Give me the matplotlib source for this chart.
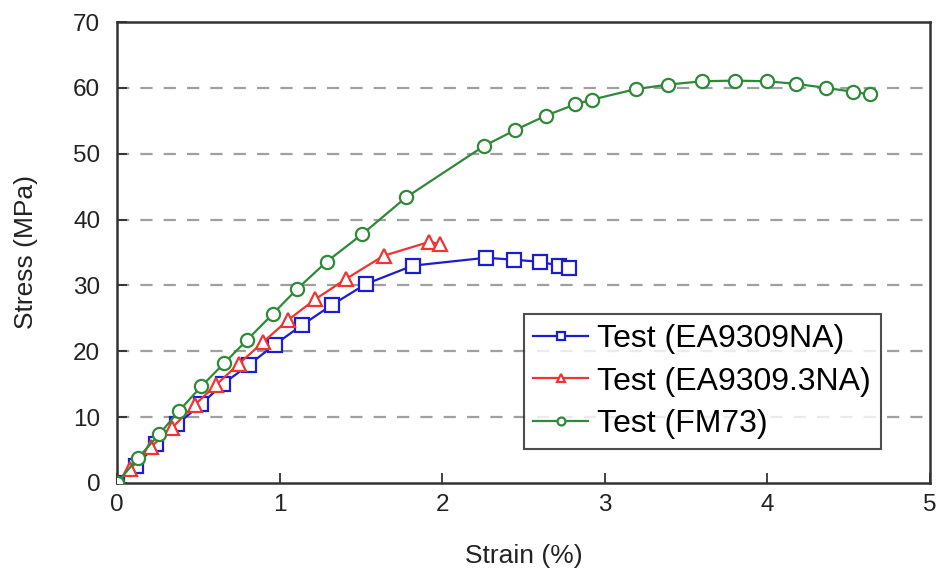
import matplotlib
matplotlib.use("Agg")
import matplotlib.pyplot as plt

plt.rcParams['font.family'] = ['Liberation Sans', 'DejaVu Sans']

# Stress-strain test data
strain_ea9309na = [0, 0.12, 0.24, 0.37, 0.52, 0.65, 0.81, 0.97, 1.14, 1.32, 1.53, 1.82,
                   2.27, 2.44, 2.60, 2.72, 2.78]
stress_ea9309na = [0, 2.6, 5.9, 8.9, 12.0, 15.0, 17.9, 21.0, 24.0, 27.0, 30.2, 33.0,
                   34.2, 33.9, 33.6, 33.0, 32.6]

strain_ea93093na = [0, 0.08, 0.21, 0.34, 0.48, 0.61, 0.75, 0.90, 1.05, 1.22, 1.41, 1.64,
                    1.92, 1.99]
stress_ea93093na = [0, 2.1, 5.5, 8.4, 11.9, 14.9, 18.1, 21.4, 24.7, 27.9, 31.0, 34.5,
                    36.6, 36.3]

strain_fm73 = [0, 0.13, 0.26, 0.38, 0.52, 0.66, 0.80, 0.96, 1.11, 1.29, 1.51, 1.78,
               2.26, 2.45, 2.64, 2.82, 2.92, 3.19, 3.39, 3.60, 3.80, 4.00, 4.18, 4.36,
               4.53, 4.63]
stress_fm73 = [0, 3.8, 7.4, 10.9, 14.7, 18.2, 21.7, 25.7, 29.5, 33.6, 37.8, 43.4,
               51.2, 53.6, 55.8, 57.5, 58.2, 59.8, 60.5, 61.0, 61.1, 61.0, 60.6, 60.0,
               59.4, 59.0]

series = [
    (strain_ea9309na, stress_ea9309na, "Test (EA9309NA)", "#1c1cd0", "s", 10),
    (strain_ea93093na, stress_ea93093na, "Test (EA9309.3NA)", "#f03434", "^", 10),
    (strain_fm73, stress_fm73, "Test (FM73)", "#2f8a38", "o", 9.5),
]

x_ticks = [0, 1, 2, 3, 4, 5]
y_ticks = [0, 10, 20, 30, 40, 50, 60, 70]

fig = plt.figure(figsize=(9.43, 5.76), dpi=100)
ax = fig.add_axes([0.124, 0.1615, 0.862, 0.8003])

# dashed reference lines at the interior stress levels
for yv in y_ticks[1:-1]:
    ax.axhline(yv, color="#a0a0a0", lw=1.6, ls=(0, (5.5, 5.0)), zorder=1)

for x, y, label, color, marker, ms in series:
    ax.plot(x, y, color=color, lw=1.6, marker=marker, ms=ms,
            mfc="white", mec=color, mew=1.6, label=label, zorder=3)

ax.set_xlim(0, 5)
ax.set_ylim(0, 70)
ax.set_xticks(x_ticks)
ax.set_yticks(y_ticks)
ax.tick_params(direction="in", length=7, width=1.2, labelsize=17.5,
               colors="#222222")
ax.tick_params(axis="y", pad=12)
ax.tick_params(axis="x", pad=8)
for s in ax.spines.values():
    s.set_linewidth(1.8)
    s.set_color("#333333")

ax.set_xlabel("Strain (%)", fontsize=19, labelpad=20, color="#222222")
ax.set_ylabel("Stress (MPa)", fontsize=19, labelpad=25, color="#222222")

leg = ax.legend(loc="lower left", bbox_to_anchor=(0.5005, 0.074), borderaxespad=0,
                fontsize=23, frameon=True, fancybox=False, handlelength=1.7,
                handletextpad=0.3, labelspacing=0.4, markerscale=0.6,
                borderpad=0.3)
leg.get_frame().set_edgecolor("#222222")
leg.get_frame().set_linewidth(1.5)

fig.savefig("out.png", dpi=100)
